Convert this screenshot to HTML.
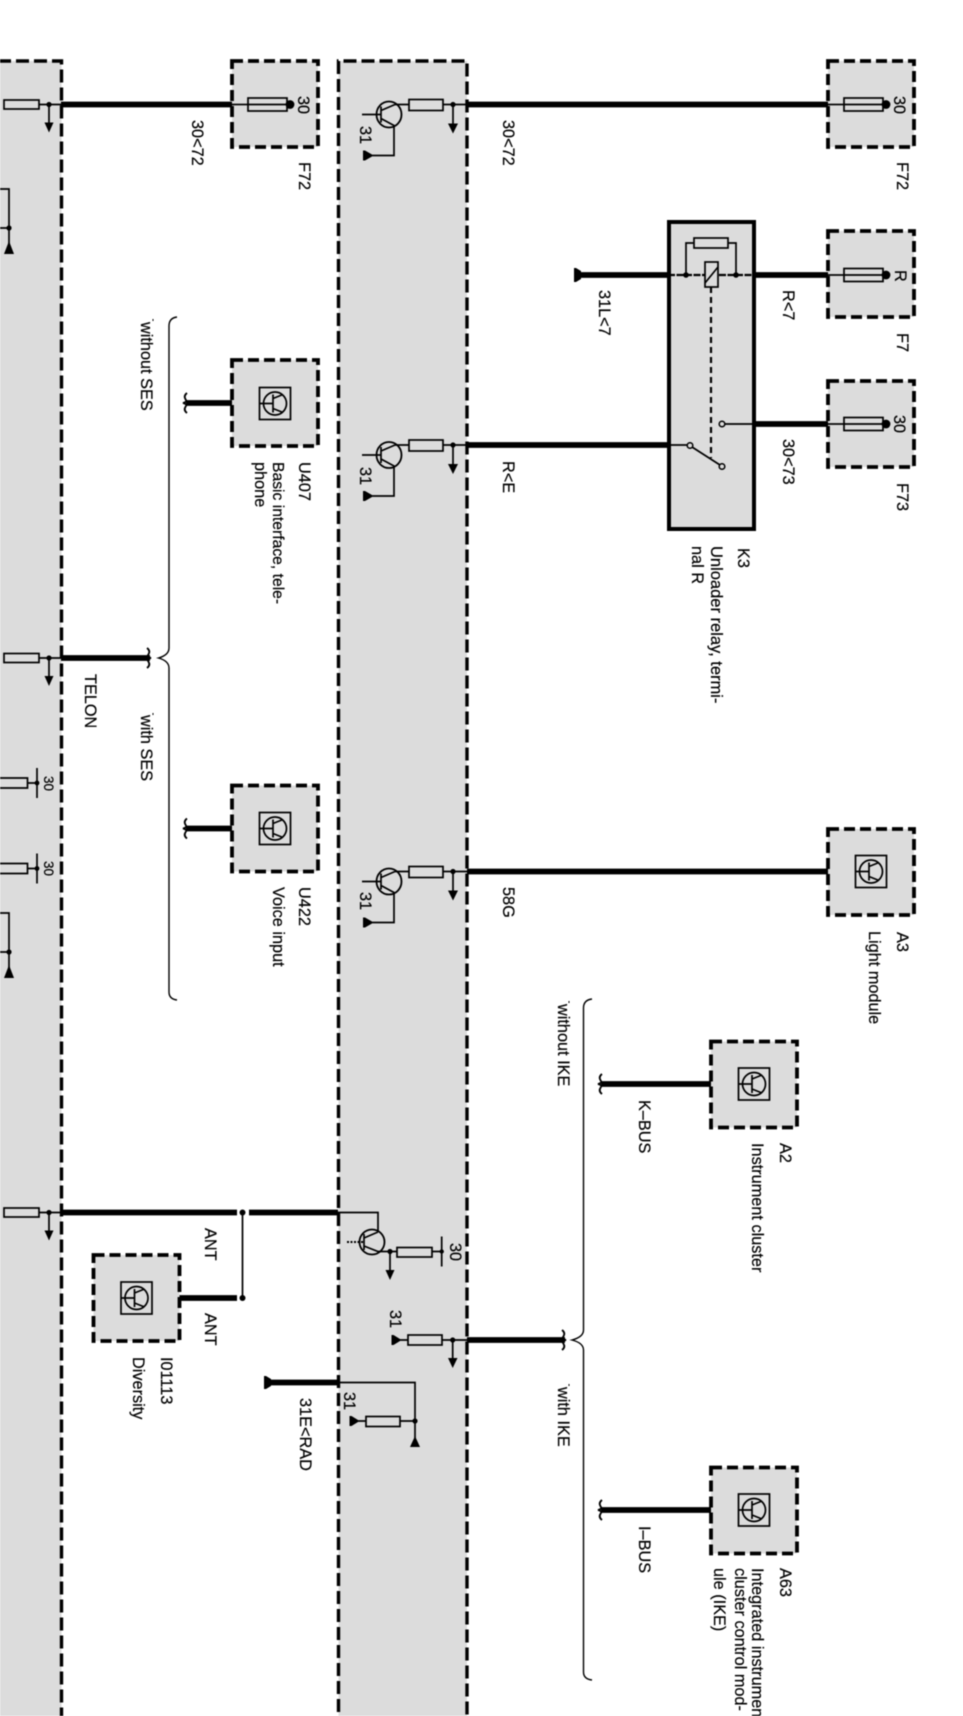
<!DOCTYPE html>
<html>
<head>
<meta charset="utf-8">
<style>
html,body{margin:0;padding:0;background:#fff;width:963px;height:1716px;overflow:hidden}
svg{display:block;filter:blur(.55px)}
text{font-family:"Liberation Sans",sans-serif;font-size:16.3px;fill:#000;stroke:#000;stroke-width:.2px}
.th{stroke:#000;stroke-width:5.8;fill:none}
.tn{stroke:#000;stroke-width:1.7;fill:none}
.box{fill:#dcdcdc;stroke:#000;stroke-width:3.8;stroke-dasharray:11 5}
.res{fill:#dcdcdc;stroke:#000;stroke-width:1.7}
.band{stroke:#000;stroke-width:3.4;stroke-dasharray:13 5;fill:none}
.br{stroke:#000;stroke-width:1.4;fill:none}
</style>
</head>
<body>
<svg width="963" height="1716" viewBox="0 0 963 1716" xmlns="http://www.w3.org/2000/svg">
<defs>
  <g id="mod"><rect class="box" x="0" y="0" width="86" height="86"/></g>
  <g id="ico">
    <rect x="-15.5" y="-16" width="31" height="32" fill="#dcdcdc" stroke="#000" stroke-width="1.7"/>
    <circle cx="0" cy="0" r="11.5" fill="none" stroke="#000" stroke-width="1.7"/>
    <path d="M-15,0H-2M-2,-9V9M-2,-5L8,-9M-2,5L8,9" class="tn"/>
  </g>
  <g id="fuse">
    <path d="M828,0H844" class="tn"/>
    <rect class="res" x="844" y="-6.5" width="39" height="13"/>
    <path d="M844,0H883" class="tn"/>
    <circle cx="886" cy="0" r="4.4" fill="#000"/>
  </g>
  <g id="drv">
    <path d="M467,0H828" class="th"/>
    <path d="M395,0H467M453,0V19" class="tn"/>
    <rect class="res" x="409" y="-5" width="34" height="11"/>
    <circle cx="453" cy="0" r="2.6" fill="#000"/>
    <polygon points="448,19 458,19 453,29" fill="#000"/>
    <ellipse cx="389" cy="10" rx="12.5" ry="13" fill="none" stroke="#000" stroke-width="1.8"/>
    <path d="M362,10H381M381,2V18M381,6L395,0M381,14L394,21V51H368" class="tn"/>
    <polygon points="363,46 365,46 372,50 372,52 365,56 363,56" fill="#000"/>
  </g>
  <g id="lft">
    <rect class="res" x="4" y="-4.5" width="35" height="9"/>
    <path d="M39,0H61M49,0V18" class="tn"/>
    <circle cx="49" cy="0" r="2.6" fill="#000"/>
    <polygon points="44.5,18 53.5,18 49,28" fill="#000"/>
  </g>
  <g id="lft30">
    <path d="M-2,-5H27.5V5H-2M27.5,0H37M37,-15V15" class="tn"/>
    <circle cx="37" cy="0" r="2.4" fill="#000"/>
  </g>
  <g id="lftg">
    <path d="M0,0H9V39M0,39H9V58" class="tn"/>
    <circle cx="9" cy="39" r="2.6" fill="#000"/>
    <polygon points="4,65 14,65 9,52" fill="#000"/>
  </g>
  <path id="brk" d="M3,-10Q-1,-7 2,-3Q3,-1 -1,0Q3,1 2,3Q-1,7 3,10" fill="none" stroke="#000" stroke-width="1.8"/>
</defs>

<!-- Bands -->
<rect x="-10" y="61" width="71.5" height="1680" fill="#dcdcdc"/>
<rect x="338.5" y="61" width="128.5" height="1680" fill="#dcdcdc"/>
<path class="band" d="M-2,61H61.5V1730"/>
<path class="band" d="M338.5,1730V61H467V1730"/>

<!-- Left band pieces -->
<use href="#lft" x="0" y="104.5"/>
<use href="#lft" x="0" y="658"/>
<use href="#lft" x="0" y="1212.5"/>
<use href="#lft30" x="0" y="783"/>
<use href="#lft30" x="0" y="868.5"/>
<use href="#lftg" x="0" y="189"/>
<use href="#lftg" x="0" y="913"/>
<text transform="translate(44,776) rotate(90)" style="font-size:13.5px">30</text>
<text transform="translate(44,861) rotate(90)" style="font-size:13.5px">30</text>

<!-- F72 left -->
<path class="th" d="M61,104.5H232"/>
<use href="#mod" x="232" y="61"/>
<g transform="translate(-596,104.5)"><use href="#fuse"/></g>
<text transform="translate(298,96) rotate(90)">30</text>
<text transform="translate(192,120) rotate(90)">30&lt;72</text>
<text transform="translate(299,162) rotate(90)">F72</text>

<!-- Drivers in band 2 -->
<use href="#drv" x="0" y="104.5"/>
<g><use href="#mod" x="828" y="61"/><use href="#fuse" x="0" y="104.5"/></g>
<text transform="translate(360,126) rotate(90)">31</text>
<text transform="translate(503,120) rotate(90)">30&lt;72</text>
<text transform="translate(894,96) rotate(90)">30</text>
<text transform="translate(897,162) rotate(90)">F72</text>

<!-- R<E driver -->
<g>
  <path d="M467,445H668" class="th"/>
  <path d="M395,445H467M453,445V464" class="tn"/>
  <rect class="res" x="409" y="440" width="34" height="11"/>
  <circle cx="453" cy="445" r="2.6" fill="#000"/>
  <polygon points="448,464 458,464 453,474" fill="#000"/>
  <ellipse cx="389" cy="455" rx="12.5" ry="13" fill="none" stroke="#000" stroke-width="1.8"/>
  <path d="M362,455H381M381,447V463M381,451L395,445M381,459L394,466V496H368" class="tn"/>
  <polygon points="363,491 365,491 372,495 372,497 365,501 363,501" fill="#000"/>
</g>
<text transform="translate(360,467) rotate(90)">31</text>
<text transform="translate(503,461) rotate(90)">R&lt;E</text>

<!-- K3 relay -->
<rect x="669" y="222" width="85" height="307" fill="#dcdcdc" stroke="#000" stroke-width="4"/>
<path class="th" d="M580,275H668M755,275H828"/>
<polygon points="574,268 576,268 581,271 581,279 576,282 574,282" fill="#000"/>
<path d="M668,275H755" stroke="#000" stroke-width="2.2" stroke-dasharray="7 1.5" fill="none"/>
<circle cx="686" cy="275" r="2.8" fill="#000"/>
<circle cx="736" cy="275" r="2.8" fill="#000"/>
<path d="M686,275V243H694M728,243H736V275" class="tn"/>
<rect class="res" x="694" y="238" width="34" height="10"/>
<rect class="res" x="705" y="262" width="13" height="25"/>
<path d="M705,283L718,267" class="tn"/>
<path d="M711,287V458" stroke="#000" stroke-width="2.2" stroke-dasharray="6 4" fill="none"/>
<path d="M755,424H828" class="th"/>
<path d="M725,424H755" class="tn"/>
<circle cx="722" cy="424" r="2.8" fill="#dcdcdc" stroke="#000" stroke-width="1.5"/>
<path d="M668,445H687M692,447L720,465" class="tn"/>
<circle cx="690" cy="445.5" r="2.8" fill="#dcdcdc" stroke="#000" stroke-width="1.5"/>
<circle cx="722" cy="466.5" r="2.8" fill="#dcdcdc" stroke="#000" stroke-width="1.5"/>

<use href="#mod" x="828" y="231"/>
<use href="#fuse" x="0" y="275"/>
<use href="#mod" x="828" y="381"/>
<use href="#fuse" x="0" y="424"/>
<text transform="translate(895,270) rotate(90)">R</text>
<text transform="translate(894,415) rotate(90)">30</text>
<text transform="translate(783,290) rotate(90)">R&lt;7</text>
<text transform="translate(599,290) rotate(90)">31L&lt;7</text>
<text transform="translate(897,333) rotate(90)">F7</text>
<text transform="translate(783,439) rotate(90)">30&lt;73</text>
<text transform="translate(897,483) rotate(90)">F73</text>
<text transform="translate(738,548) rotate(90)">K3</text>
<text transform="translate(711,546) rotate(90)" style="font-size:16.5px">Unloader relay, termi-</text>
<text transform="translate(692,546) rotate(90)">nal R</text>

<!-- U407 -->
<path class="th" d="M186,403H232"/>
<use href="#brk" x="184" y="403"/>
<use href="#mod" x="232" y="360"/>
<use href="#ico" x="275" y="403.5"/>
<text transform="translate(299,462) rotate(90)">U407</text>
<text transform="translate(273,462) rotate(90)" style="font-size:15.7px">Basic interface, tele-</text>
<text transform="translate(255,462) rotate(90)">phone</text>

<!-- Brace SES -->
<path class="br" d="M177,317Q169,318 169,326V648Q169,655 158.5,658Q169,661 169,668V992Q169,999 177,1000"/>
<text transform="translate(141,322) rotate(90)">without SES</text>
<text transform="translate(141,715) rotate(90)">with SES</text>
<path d="M153,319v2M153,713v2" stroke="#000" stroke-width="1"/>

<!-- TELON -->
<path class="th" d="M61,658H150"/>
<use href="#brk" x="150" y="658" transform="rotate(180 150 658)"/>
<text transform="translate(85,674) rotate(90)">TELON</text>

<!-- U422 -->
<path class="th" d="M186,828.5H232"/>
<use href="#brk" x="184" y="828.5"/>
<use href="#mod" x="232" y="785.5"/>
<use href="#ico" x="275" y="828.5"/>
<text transform="translate(299,887) rotate(90)">U422</text>
<text transform="translate(273,887) rotate(90)">Voice input</text>

<!-- 58G / A3 -->
<g>
  <path d="M467,871.5H828" class="th"/>
  <path d="M395,871.5H467M453,871.5V890.5" class="tn"/>
  <rect class="res" x="409" y="866.5" width="34" height="11"/>
  <circle cx="453" cy="871.5" r="2.6" fill="#000"/>
  <polygon points="448,890.5 458,890.5 453,900.5" fill="#000"/>
  <ellipse cx="389" cy="881.5" rx="12.5" ry="13" fill="none" stroke="#000" stroke-width="1.8"/>
  <path d="M362,881.5H381M381,873.5V889.5M381,877.5L395,871.5M381,885.5L394,892.5V922.5H368" class="tn"/>
  <polygon points="363,917.5 365,917.5 372,921.5 372,923.5 365,927.5 363,927.5" fill="#000"/>
</g>
<use href="#mod" x="828" y="829"/>
<use href="#ico" x="871" y="871.5"/>
<text transform="translate(360,892) rotate(90)">31</text>
<text transform="translate(503,887) rotate(90)">58G</text>
<text transform="translate(897,932) rotate(90)">A3</text>
<text transform="translate(869,931) rotate(90)">Light module</text>

<!-- Brace IKE -->
<path class="br" d="M592,999Q583.5,1000 583.5,1008V1330Q583.5,1337 572,1340Q583.5,1343 583.5,1350V1672Q583.5,1679 592,1680"/>
<text transform="translate(558,1004) rotate(90)">without IKE</text>
<text transform="translate(558,1387) rotate(90)">with IKE</text>
<path d="M569,1001v2M569,1384v2" stroke="#000" stroke-width="1"/>

<!-- A2 -->
<path class="th" d="M601,1084H711"/>
<use href="#brk" x="599" y="1084"/>
<use href="#mod" x="711" y="1041.5"/>
<use href="#ico" x="754" y="1084"/>
<text transform="translate(639,1100) rotate(90)">K–BUS</text>
<text transform="translate(780,1143) rotate(90)">A2</text>
<text transform="translate(752,1143) rotate(90)">Instrument cluster</text>

<!-- A63 -->
<path class="th" d="M601,1510H711"/>
<use href="#brk" x="599" y="1510"/>
<use href="#mod" x="711" y="1467.5"/>
<use href="#ico" x="754" y="1510"/>
<text transform="translate(639,1526) rotate(90)">I–BUS</text>
<text transform="translate(780,1568) rotate(90)">A63</text>
<text transform="translate(752,1568) rotate(90)">Integrated instrument</text>
<text transform="translate(735,1568) rotate(90)">cluster control mod-</text>
<text transform="translate(714,1568) rotate(90)">ule (IKE)</text>

<!-- ANT -->
<path class="th" d="M61,1212.5H237M249,1212.5H338"/>
<circle cx="242.5" cy="1212.5" r="3" fill="#000"/>
<path class="tn" d="M242.5,1212.5V1298"/>
<path class="th" d="M179,1298H237"/>
<circle cx="242.5" cy="1298" r="3" fill="#000"/>
<use href="#mod" x="93.5" y="1255"/>
<use href="#ico" x="136.5" y="1298"/>
<text transform="translate(205,1228) rotate(90)">ANT</text>
<text transform="translate(205,1313) rotate(90)">ANT</text>
<text transform="translate(161,1357) rotate(90)">I01113</text>
<text transform="translate(133,1357) rotate(90)">Diversity</text>

<!-- Transistor at antenna -->
<path class="tn" d="M338,1212.5H378V1232"/>
<ellipse cx="372" cy="1242" rx="12.5" ry="12.5" fill="none" stroke="#000" stroke-width="1.8"/>
<path d="M347,1242H364" stroke="#000" stroke-width="2" stroke-dasharray="2 1.5" fill="none"/>
<path class="tn" d="M364,1234V1250M364,1238L378,1232M364,1246L378,1251.5H442M390,1251.5V1270M441.7,1236.5V1266.5"/>
<rect class="res" x="397" y="1247.5" width="35" height="9.5"/>
<circle cx="390" cy="1251.5" r="2.6" fill="#000"/>
<circle cx="441.7" cy="1251.5" r="2.2" fill="#000"/>
<polygon points="385.5,1270 394.5,1270 390,1280" fill="#000"/>
<text transform="translate(450,1243) rotate(90)">30</text>

<!-- 31 driver -->
<path class="th" d="M467,1340H565"/>
<use href="#brk" x="565" y="1340" transform="rotate(180 565 1340)"/>
<path class="tn" d="M393,1340H467M452.7,1340V1358"/>
<rect class="res" x="408" y="1335" width="34" height="10"/>
<circle cx="452.7" cy="1340" r="2.6" fill="#000"/>
<polygon points="448,1358 457.5,1358 452.7,1368" fill="#000"/>
<polygon points="391.5,1335 393.5,1335 400,1339 400,1341 393.5,1345 391.5,1345" fill="#000"/>
<text transform="translate(390,1310) rotate(90)">31</text>

<!-- 31E<RAD -->
<path class="th" d="M270,1382.5H338"/>
<polygon points="264,1376 266,1376 271,1379 271,1386 266,1389 264,1389" fill="#000"/>
<path class="tn" d="M338,1382.5H415V1438M358,1421H415"/>
<rect class="res" x="366" y="1416.5" width="34" height="10"/>
<circle cx="415" cy="1421" r="2.6" fill="#000"/>
<polygon points="410,1447 420,1447 415,1436" fill="#000"/>
<polygon points="349.5,1416 351.5,1416 358,1420 358,1422 351.5,1426 349.5,1426" fill="#000"/>
<text transform="translate(344,1392) rotate(90)">31</text>
<text transform="translate(300,1398) rotate(90)">31E&lt;RAD</text>
</svg>
</body>
</html>
